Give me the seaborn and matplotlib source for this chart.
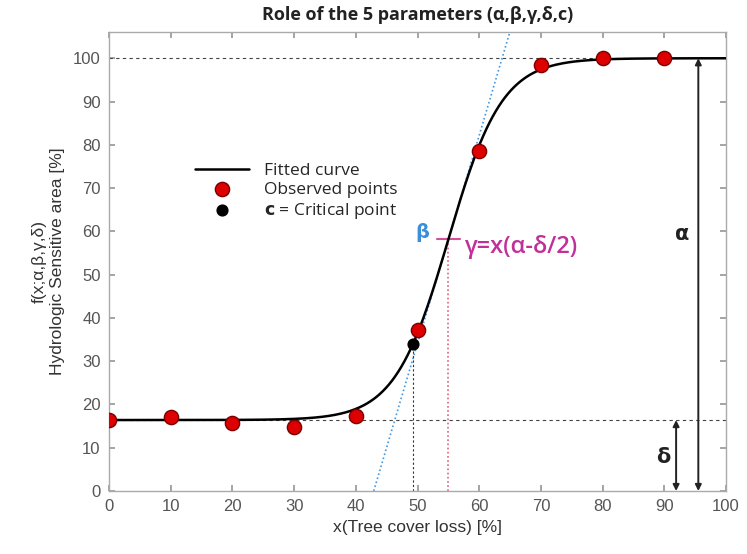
import numpy as np
import pandas as pd
import matplotlib
matplotlib.use("Agg")
import matplotlib.pyplot as plt
import seaborn as sns

# Observed data
x_obs = [0, 10, 20, 30, 40, 50, 60, 70, 80, 90]
y_obs = [16.4, 17.0, 15.8, 14.8, 17.4, 37.3, 78.6, 98.4, 100.0, 100.0]

# Fitted logistic parameters
alpha = 83.6   # amplitude
beta = 0.23    # slope factor
gamma = 55.0   # inflection point
delta = 16.4   # lower asymptote


def logistic(x):
    return delta + alpha / (1.0 + np.exp(-beta * (x - gamma)))


x_fit = np.linspace(0, 100, 400)
fit = pd.DataFrame({"x": x_fit, "y": logistic(x_fit)})
obs = pd.DataFrame({"x": x_obs, "y": y_obs})

# Critical point: where the third derivative vanishes
x_c = gamma - np.log(2 + np.sqrt(3)) / beta
y_c = logistic(x_c)
y_mid = logistic(gamma)
slope = alpha * beta / 4.0

sns.set_theme(style="white")
plt.rcParams["font.family"] = ["Liberation Sans", "DejaVu Sans"]

fig = plt.figure(figsize=(7.47, 5.54), dpi=100)
ax = fig.add_axes([0.146, 0.1137, 0.826, 0.828])

grey = "#555555"
ax.set_xlim(0, 100)
ax.set_ylim(0, 106)

# reference lines
ax.axhline(alpha + delta, color="#444444", ls=(0, (3, 3)), lw=0.8, zorder=1)
ax.axhline(delta, color="#444444", ls=(0, (3, 3)), lw=0.8, zorder=1)

# tangent at the inflection point
xt = np.array([gamma - y_mid / slope, gamma + (106 - y_mid) / slope])
ax.plot(xt, y_mid + slope * (xt - gamma), color="#4a98dc", ls=(0, (1, 1.5)), lw=1.2, zorder=2)

# verticals to the critical point and to gamma
ax.plot([x_c, x_c], [0, y_c], color="#333333", ls=(0, (2, 2)), lw=0.8, zorder=2)
ax.plot([gamma, gamma], [0, y_mid], color="#e0607e", ls=(0, (1, 1.5)), lw=1.2, zorder=2)
ax.plot([gamma - 1.8, gamma + 1.9], [y_mid, y_mid], color="#d0509a", lw=1.5, zorder=2)

sns.lineplot(data=fit, x="x", y="y", ax=ax, color="black", lw=1.8, zorder=3,
             label="Fitted curve")
sns.scatterplot(data=obs, x="x", y="y", ax=ax, s=105, color="#dd0000",
                edgecolor="#7a0000", linewidth=1.0, zorder=4, label="Observed points")
ax.scatter([x_c], [y_c], s=60, color="black", zorder=5,
           label=r"$\mathbf{c}$ = Critical point")

# alpha and delta arrows
ax.annotate("", xy=(95.5, 0), xytext=(95.5, alpha + delta),
            arrowprops=dict(arrowstyle="<|-|>", color="#222222", lw=1.4,
                            mutation_scale=9, shrinkA=0, shrinkB=0))
ax.annotate("", xy=(91.9, 0), xytext=(91.9, delta),
            arrowprops=dict(arrowstyle="<|-|>", color="#222222", lw=1.4,
                            mutation_scale=9, shrinkA=0, shrinkB=0))
ax.text(92.9, 59.3, "α", fontsize=15, fontweight="bold", ha="center", va="center",
        color="#222222", family="DejaVu Sans")
ax.text(89.8, 7.9, "δ", fontsize=15, fontweight="bold", ha="center", va="center",
        color="#222222", family="DejaVu Sans")
ax.text(50.7, 59.8, "β", fontsize=14, fontweight="bold", ha="center", va="center",
        color="#3a8fd8", family="DejaVu Sans")
ax.text(57.7, 56.4, "γ=x(α-δ/2)", fontsize=17, fontweight="semibold", ha="left",
        va="center", color="#c0309a", family=["Open Sans", "DejaVu Sans"])

leg = ax.legend(loc="upper left", bbox_to_anchor=(0.128, 0.73), frameon=False,
                fontsize=12.5, handlelength=3.1, handletextpad=0.9, labelspacing=0.15,
                borderaxespad=0)
for t in leg.get_texts():
    t.set_family(["Open Sans", "DejaVu Sans"])

ax.set_xticks(range(0, 101, 10))
ax.set_yticks(range(0, 101, 10))
ax.tick_params(direction="in", length=4, top=True, right=True, bottom=True, left=True,
               colors="#999999", labelcolor=grey, labelsize=12, pad=6)
for s in ax.spines.values():
    s.set_color("#aaaaaa")
    s.set_linewidth(1.0)

ax.set_xlabel("x(Tree cover loss) [%]", fontsize=12.5, color="#333333", labelpad=4)
ax.set_ylabel("f(x;α,β,γ,δ)\nHydrologic Sensitive area [%]", fontsize=12.5,
              color="#333333", labelpad=6)
ax.set_title("Role of the 5 parameters (α,β,γ,δ,c)", fontsize=13, fontweight="bold",
             color="#222222", pad=9, family=["Open Sans", "DejaVu Sans"])

fig.savefig("out.png", dpi=100)
